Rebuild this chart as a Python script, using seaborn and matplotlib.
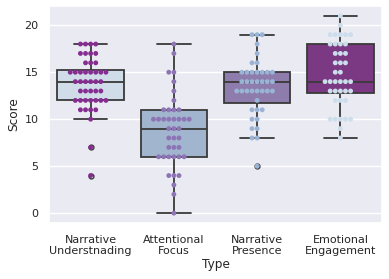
import matplotlib
matplotlib.use("Agg")
import matplotlib.pyplot as plt
import seaborn as sns
import pandas as pd

categories = ["Narrative\nUnderstnading", "Attentional\nFocus",
              "Narrative\nPresence", "Emotional\nEngagement"]

narrative_understanding = [18, 18, 18, 18, 17, 17, 17, 17, 16, 16, 16,
                           15, 15, 15, 15, 15, 15, 15, 15,
                           14, 14, 14, 14, 14, 14, 13, 13, 13, 13, 13,
                           12, 12, 12, 12, 12, 12, 12, 11, 11, 11, 11,
                           10, 7, 4]
attentional_focus = [18, 17, 15, 15, 14, 13, 12, 11, 11, 11, 11,
                     10, 10, 10, 10, 10, 10, 10, 10, 9, 9, 9, 8, 8, 8,
                     7, 7, 7, 6, 6, 6, 6, 6, 6, 4, 4, 4, 3, 2, 0]
narrative_presence = [19, 19, 19, 18, 17, 16, 16, 15, 15, 15, 15, 15, 15, 15,
                      14, 14, 14, 14, 14, 14, 14, 13, 13, 13, 13, 13, 13, 13, 13,
                      12, 11, 11, 11, 10, 10, 9, 9, 8, 8, 5]
emotional_engagement = [21, 20, 19, 19, 19, 19, 19, 18, 18, 18, 18,
                        17, 17, 17, 16, 16, 16, 15, 15,
                        14, 14, 14, 14, 14, 14, 13, 13, 13, 13, 13,
                        12, 12, 12, 10, 10, 10, 10, 10, 9, 8]

series = [narrative_understanding, attentional_focus,
          narrative_presence, emotional_engagement]

rows = []
for cat, vals in zip(categories, series):
    for v in vals:
        rows.append({"Type": cat, "Score": v})
df = pd.DataFrame(rows)

sns.set_theme(style="darkgrid")
W, H, DPI = 389, 279, 100
fig = plt.figure(figsize=(W / DPI, H / DPI), dpi=DPI)
ax = fig.add_axes([49 / W, (H - 223) / H, (382 - 49) / W, (223 - 6) / H])

sns.boxplot(data=df, x="Type", y="Score", hue="Type", palette="BuPu",
            legend=False, ax=ax, linewidth=1.3,
            flierprops=dict(markersize=3.5))
sns.swarmplot(data=df, x="Type", y="Score", hue="Type", palette="BuPu_r",
              legend=False, ax=ax, size=3.5)

ax.set_yticks([0, 5, 10, 15, 20])
ax.tick_params(axis="x", labelsize=8, pad=2.5)
ax.tick_params(axis="y", labelsize=8, pad=1.5)
ax.set_xlabel("Type", fontsize=8.7, labelpad=1.5)
ax.set_ylabel("Score", fontsize=8.7, labelpad=3)

fig.savefig("out.png", dpi=DPI)
